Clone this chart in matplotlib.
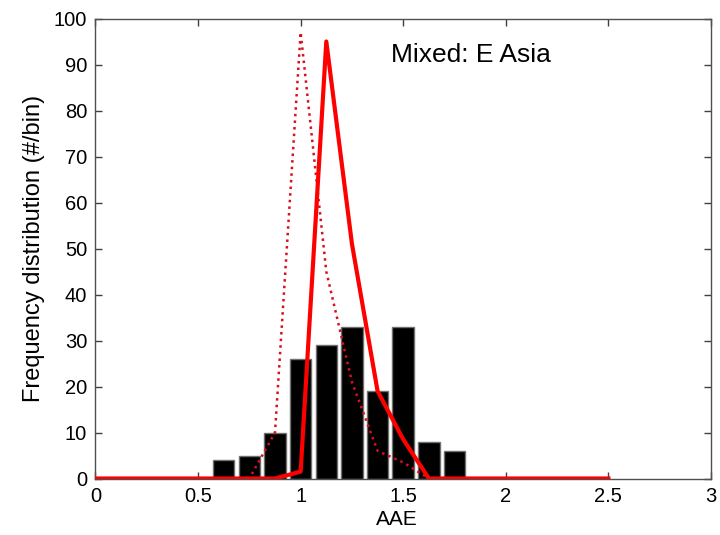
import numpy as np
import matplotlib
matplotlib.use("Agg")
import matplotlib.pyplot as plt

plt.rcParams['font.family'] = ['Liberation Sans', 'DejaVu Sans']

# histogram of AAE (bin centres, counts)
bin_centers = [0.625, 0.75, 0.875, 1.0, 1.125, 1.25, 1.375, 1.5, 1.625, 1.75]
counts = [4, 5, 10, 26, 29, 33, 19, 33, 8, 6]

# model distributions on the same 0.125 grid
aae_grid = [0.0, 0.125, 0.25, 0.375, 0.5, 0.625, 0.75, 0.875, 1.0, 1.125, 1.25,
            1.375, 1.5, 1.625, 1.75, 1.875, 2.0, 2.125, 2.25, 2.375, 2.5]
solid_dist = [0, 0, 0, 0, 0, 0, 0, 0, 1.5, 95, 51,
              19, 8.5, 0, 0, 0, 0, 0, 0, 0, 0]
dotted_dist = [0, 0, 0, 0, 0, 0, 0, 10, 97, 45, 21,
               6, 3.5, 0, 0, 0, 0, 0, 0, 0, 0]

fig = plt.figure(figsize=(7.2, 5.35), dpi=100)
ax = fig.add_axes([0.1326, 0.1056, 0.8549, 0.8598])

ax.bar(bin_centers, counts, width=0.105, color='black',
       edgecolor='#707070', linewidth=1.0, zorder=2)
ax.plot(aae_grid, dotted_dist, color='#d8101e', linestyle=':', linewidth=1.8, zorder=3)
ax.plot(aae_grid, solid_dist, color='#ff0000', linestyle='-', linewidth=3.0, zorder=4)

ax.text(1.44, 92, 'Mixed: E Asia', fontsize=19, va='center', ha='left')

ax.set_xlim(0, 3)
ax.set_ylim(0, 100)
ax.set_xticks(np.arange(0, 3.01, 0.5))
ax.set_xticklabels(['0', '0.5', '1', '1.5', '2', '2.5', '3'])
ax.set_yticks(np.arange(0, 101, 10))

ax.tick_params(direction='in', top=True, right=True, length=5, width=1,
               color='#404040', labelsize=14.5, pad=6)
for s in ax.spines.values():
    s.set_color('#505050')
    s.set_linewidth(1.0)

ax.set_xlabel('AAE', fontsize=15, labelpad=3)
ax.xaxis.label.set_x(0.49)
ax.set_ylabel('Frequency distribution (#/bin)', fontsize=17, labelpad=6)

fig.savefig('out.png', dpi=100)
